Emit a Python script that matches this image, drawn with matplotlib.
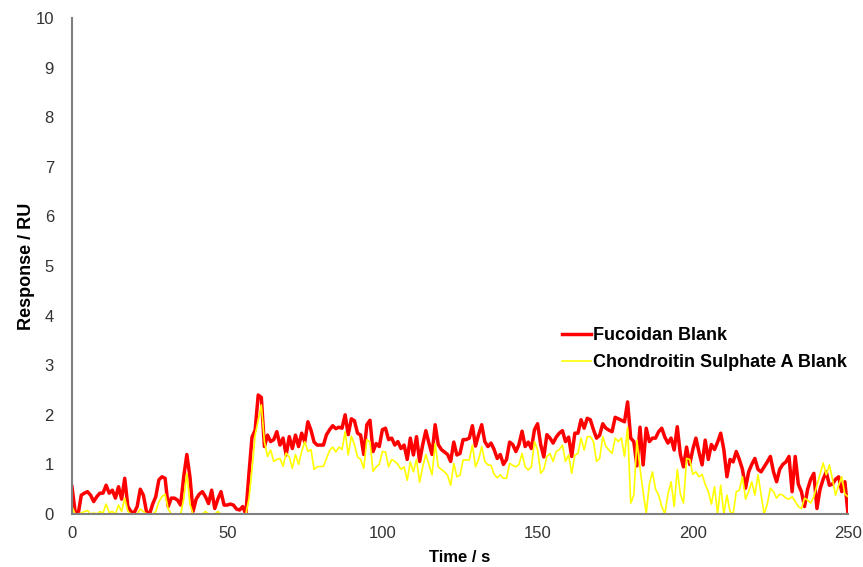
import numpy as np
import matplotlib
matplotlib.use('Agg')
import matplotlib.pyplot as plt

time_s = np.arange(0, 251)

fucoidan = [
    0.55, 0.05, 0.0, 0.38, 0.42, 0.45, 0.38, 0.25, 0.35, 0.42,
    0.42, 0.58, 0.42, 0.48, 0.32, 0.55, 0.3, 0.72, 0.15, 0.05,
    0.02, 0.15, 0.5, 0.38, 0.05, 0.0, 0.2, 0.35, 0.69, 0.75,
    0.72, 0.15, 0.32, 0.32, 0.28, 0.18, 0.75, 1.2, 0.75, 0.05,
    0.3, 0.4, 0.45, 0.35, 0.21, 0.48, 0.11, 0.3, 0.45, 0.18,
    0.18, 0.2, 0.18, 0.1, 0.08, 0.15, 0.0, 0.8, 1.55, 1.69,
    2.4, 2.35, 1.36, 1.59, 1.46, 1.5, 1.66, 1.39, 1.53, 1.19,
    1.56, 1.32, 1.59, 1.36, 1.63, 1.45, 1.86, 1.69, 1.45, 1.39,
    1.39, 1.39, 1.6, 1.7, 1.78, 1.72, 1.75, 1.73, 2.0, 1.6,
    1.92, 1.88, 1.63, 1.59, 1.2, 1.8, 1.89, 1.26, 1.42, 1.36,
    1.7, 1.73, 1.5, 1.53, 1.39, 1.46, 1.32, 1.39, 1.1, 1.53,
    1.19, 1.56, 1.06, 1.4, 1.68, 1.43, 1.2, 1.8, 1.4, 1.3,
    1.25, 1.2, 1.06, 1.45, 1.19, 1.22, 1.5, 1.5, 1.53, 1.78,
    1.37, 1.6, 1.8, 1.46, 1.36, 1.43, 1.3, 1.12, 1.2, 1.0,
    1.1, 1.45, 1.4, 1.26, 1.4, 1.67, 1.36, 1.45, 1.32, 1.7,
    1.82, 1.4, 1.15, 1.6, 1.53, 1.43, 1.55, 1.63, 1.68, 1.46,
    1.55, 1.16, 1.63, 1.63, 1.9, 1.73, 1.93, 1.9, 1.7, 1.53,
    1.59, 1.82, 1.73, 1.69, 1.66, 1.95, 1.92, 1.89, 1.86, 2.26,
    1.53, 1.46, 0.97, 1.75, 0.99, 1.73, 1.46, 1.53, 1.53, 1.66,
    1.73, 1.55, 1.43, 1.53, 1.29, 1.76, 1.2, 0.95, 1.35, 1.0,
    1.3, 1.53, 1.25, 0.99, 1.49, 1.1, 1.4, 1.3, 1.45, 1.63,
    1.3, 0.75, 1.1, 1.05, 1.26, 1.1, 0.9, 0.52, 0.85, 1.0,
    1.12, 0.9, 0.85, 0.95, 1.05, 1.16, 0.85, 0.65, 0.9, 1.0,
    1.05, 1.16, 0.45, 1.16, 0.6, 0.45, 0.15, 0.5, 0.7, 0.82,
    0.11, 0.5, 0.7, 0.85, 0.58, 0.6, 0.7, 0.75, 0.45, 0.65,
    0.0,
]

chondroitin = [
    0.15, 0.0, 0.0, 0.02, 0.05, 0.07, 0.0, 0.02, 0.0, 0.05,
    0.02, 0.2, 0.03, 0.05, 0.0, 0.18, 0.05, 0.32, 0.05, 0.0,
    0.0, 0.0, 0.1, 0.05, 0.0, 0.0, 0.0, 0.05, 0.25, 0.35,
    0.4, 0.1, 0.0, 0.0, 0.0, 0.0, 0.3, 0.82, 0.2, 0.0,
    0.0, 0.0, 0.0, 0.05, 0.0, 0.0, 0.0, 0.05, 0.0, 0.0,
    0.0, 0.0, 0.0, 0.0, 0.0, 0.0, 0.0, 0.3, 0.9, 1.59,
    1.9, 2.2, 1.46, 1.16, 1.29, 1.06, 1.1, 1.12, 0.96, 1.23,
    1.15, 0.92, 1.2, 1.0, 1.26, 1.46, 1.26, 1.3, 0.9, 0.95,
    0.96, 0.96, 1.12, 1.28, 1.35, 1.25, 1.35, 1.3, 1.66, 1.19,
    1.57, 1.4, 1.15, 1.1, 0.92, 1.5, 1.45, 0.86, 0.95, 1.0,
    1.26, 1.25, 0.95, 1.1, 1.06, 1.0, 0.9, 0.95, 0.68, 1.05,
    0.85, 1.1, 0.64, 0.95, 1.2, 1.0, 0.79, 1.42, 0.95, 0.9,
    0.85, 0.78, 0.58, 1.02, 0.75, 0.78, 1.09, 1.09, 1.09, 1.39,
    0.95, 1.1, 1.36, 1.06, 0.99, 0.98, 0.8, 0.73, 0.79, 0.72,
    0.72, 1.02, 0.98, 0.95, 1.0, 1.22, 0.95, 0.89, 0.95, 1.46,
    1.3, 0.82, 0.9, 1.16, 1.22, 1.06, 1.26, 1.3, 1.39, 1.06,
    1.19, 0.82, 1.19, 1.22, 1.53, 1.29, 1.56, 1.56, 1.46, 1.06,
    1.12, 1.56, 1.36, 1.29, 1.22, 1.53, 1.46, 1.53, 1.16, 1.75,
    0.22, 0.38, 1.49, 0.92, 0.45, 0.01, 0.6, 0.85, 0.5, 0.38,
    0.15, 0.0, 0.4, 0.65, 0.15, 0.9, 0.4, 0.22, 1.12, 1.1,
    0.8, 0.85, 0.75, 0.8, 0.6, 0.45, 0.2, 0.55, 0.0, 0.58,
    0.0, 0.38, 0.05, 0.0, 0.45, 0.48, 0.75, 0.3, 0.45, 0.65,
    0.38, 0.79, 0.4, 0.0, 0.2, 0.52, 0.45, 0.32, 0.4, 0.38,
    0.32, 0.3, 0.35, 0.25, 0.15, 0.11, 0.32, 0.28, 0.22, 0.35,
    0.58, 0.8, 1.03, 0.79, 0.99, 0.7, 0.38, 0.58, 0.75, 0.4,
    0.35,
]

x_ticks = [0, 50, 100, 150, 200, 250]
y_ticks = list(range(0, 11))

plt.rcParams['font.family'] = ['Liberation Sans', 'DejaVu Sans']

fig = plt.figure(figsize=(8.63, 5.67), dpi=100)
ax = fig.add_axes([0.0834, 0.0935, 0.8992, 0.8745])

ax.plot(time_s, fucoidan, color='#ff0000', lw=2.5, label='Fucoidan Blank')
ax.plot(time_s, chondroitin, color='#ffff00', lw=1.2, label='Chondroitin Sulphate A Blank')

ax.set_xlim(0, 250)
ax.set_ylim(0, 10)
ax.set_xticks(x_ticks)
ax.set_yticks(y_ticks)
ax.tick_params(length=0, labelsize=12, colors='#333333')
ax.tick_params(axis='y', pad=13)
ax.tick_params(axis='x', pad=9)

for s in ['top', 'right']:
    ax.spines[s].set_visible(False)
for s in ['left', 'bottom']:
    ax.spines[s].set_color('#808080')
    ax.spines[s].set_linewidth(1.5)

ax.set_xlabel('Time / s', fontsize=12, fontweight='bold', labelpad=6)
ax.set_ylabel('Response / RU', fontsize=13, fontweight='bold', labelpad=0)

leg = ax.legend(loc='upper left', bbox_to_anchor=(0.611, 0.41), frameon=False,
                handlelength=1.6, handletextpad=0.12, labelspacing=0.55,
                prop={'size': 13, 'weight': 'bold'})

fig.savefig('out.png', dpi=100)
